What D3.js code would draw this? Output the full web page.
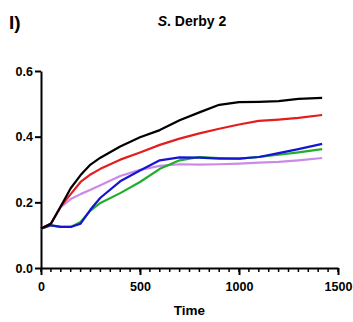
<!DOCTYPE html>
<html>
<head>
<meta charset="utf-8">
<script src="https://cdn.jsdelivr.net/npm/d3@7"></script>
<style>
  body { margin: 0; background: #fff; }
  svg text { font-family: "Liberation Sans", Arial, sans-serif; font-weight: bold; }
</style>
</head>
<body>
<div id="chart"></div>
<script>
// time points (shared by every curve)
const times = [0, 50, 100, 150, 200, 250, 300, 400, 500, 600, 700, 800, 900, 1000, 1100, 1200, 1300, 1420]

const blackVals  = [0.12, 0.135, 0.188, 0.243, 0.283, 0.315, 0.336, 0.37, 0.398, 0.42, 0.45, 0.474, 0.497, 0.505, 0.506, 0.508, 0.515, 0.518]
const redVals    = [0.12, 0.135, 0.188, 0.225, 0.262, 0.285, 0.302, 0.33, 0.352, 0.375, 0.394, 0.41, 0.424, 0.437, 0.448, 0.452, 0.457, 0.466]
const purpleVals = [0.12, 0.135, 0.185, 0.21, 0.225, 0.238, 0.252, 0.28, 0.299, 0.311, 0.316, 0.315, 0.316, 0.318, 0.321, 0.323, 0.328, 0.335]
const blueVals   = [0.12, 0.13, 0.125, 0.125, 0.135, 0.178, 0.214, 0.264, 0.297, 0.328, 0.337, 0.336, 0.333, 0.333, 0.338, 0.35, 0.362, 0.378]
const greenVals  = [0.12, 0.13, 0.125, 0.125, 0.14, 0.175, 0.198, 0.228, 0.262, 0.302, 0.328, 0.338, 0.335, 0.333, 0.338, 0.345, 0.352, 0.362]

const yTicks = [0, 0.2, 0.4, 0.6]
const xTicks = [0, 500, 1000, 1500]

const series = [
  {name: "purple", color: "#cc8ae8", vals: purpleVals},
  {name: "green",  color: "#1fae2a", vals: greenVals},
  {name: "blue",   color: "#1414d2", vals: blueVals},
  {name: "red",    color: "#e41e1e", vals: redVals},
  {name: "black",  color: "#000000", vals: blackVals},
]

const W = 353, H = 322
const margin = {top: 71, right: 15, bottom: 54, left: 41}

const svg = d3.select("#chart")
  .append("svg")
  .attr("width", W)
  .attr("height", H)

const g = svg.append("g")
  .attr("transform", "translate(" + margin.left + "," + margin.top + ")")

let x = d3.scaleLinear().domain([0, 1500]).range([0, 297])
let y = d3.scaleLinear().domain([0, 0.6]).range([197, 0])

// minor ticks on x
g.append("g")
  .attr("transform", "translate(0,197)")
  .selectAll("line")
  .data(d3.range(0, 1501, 50))
  .enter()
  .append("line")
    .attr("x1", d => x(d))
    .attr("x2", d => x(d))
    .attr("y1", 0)
    .attr("y2", 4)
    .attr("stroke", "#000")
    .attr("stroke-width", 1.5)

const xAxis = g.append("g")
  .attr("transform", "translate(0,197)")
  .call(d3.axisBottom(x).tickValues(xTicks).tickSize(7).tickSizeOuter(0).tickFormat(d3.format("d")))
xAxis.select(".domain").attr("stroke-width", 2)
xAxis.selectAll(".tick line").attr("stroke-width", 2)
xAxis.selectAll("text").attr("font-size", 12.5).attr("dy", "1.05em").attr("fill", "#000")

const yAxis = g.append("g")
  .call(d3.axisLeft(y).tickValues(yTicks).tickSize(6).tickSizeOuter(0).tickFormat(d3.format(".1f")))
yAxis.select(".domain").attr("stroke-width", 2)
yAxis.selectAll(".tick line").attr("stroke-width", 2)
yAxis.selectAll("text").attr("font-size", 12.5).attr("fill", "#000").attr("x", -8)

const line = d3.line()
  .x((d, i) => x(times[i]))
  .y(d => y(d))

g.selectAll(".curve")
  .data(series)
  .enter()
  .append("path")
    .attr("class", "curve")
    .attr("d", d => line(d.vals))
    .attr("fill", "none")
    .attr("stroke", d => d.color)
    .attr("stroke-width", 2.2)
    .attr("stroke-linejoin", "round")

// axis title
svg.append("text")
  .attr("x", margin.left + x(750))
  .attr("y", 315)
  .attr("text-anchor", "middle")
  .attr("font-size", 13.5)
  .text("Time")

// panel letter and title
svg.append("text")
  .attr("x", 9)
  .attr("y", 29)
  .attr("font-size", 19)
  .text("I)")

const title = svg.append("text")
  .attr("x", 192)
  .attr("y", 26)
  .attr("text-anchor", "middle")
  .attr("font-size", 14)
title.append("tspan").attr("font-style", "italic").text("S")
title.append("tspan").text(". Derby 2")
</script>
</body>
</html>
